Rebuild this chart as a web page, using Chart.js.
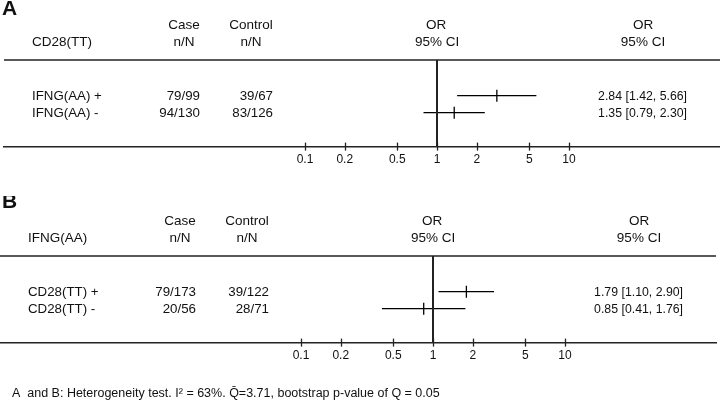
<!DOCTYPE html>
<html>
<head>
<meta charset="utf-8">
<script src="https://cdn.jsdelivr.net/npm/chart.js@4.4.1/dist/chart.umd.min.js"></script>
<style>
body { margin: 0; background: #fff; width: 720px; height: 402px; overflow: hidden; position: relative; }
.panel { position: absolute; left: 0; width: 720px; }
#panelA { top: 0; height: 175px; }
#panelB { top: 196px; height: 206px; }
</style>
</head>
<body>
<div class="panel" id="panelA"><canvas id="chartA"></canvas></div>
<div class="panel" id="panelB"><canvas id="chartB"></canvas></div>
<script>
// Panel A: CD28(TT) según IFNG(AA)
const rowsA = ['IFNG(AA) +', 'IFNG(AA) -'];
const caseA = ['79/99', '94/130'];
const controlA = ['39/67', '83/126'];
const orA = [2.84, 1.35];
const loA = [1.42, 0.79];
const hiA = [5.66, 2.30];

// Panel B: IFNG(AA) según CD28(TT)
const rowsB = ['CD28(TT) +', 'CD28(TT) -'];
const caseB = ['79/173', '20/56'];
const controlB = ['39/122', '28/71'];
const orB = [1.79, 0.85];
const loB = [1.10, 0.41];
const hiB = [2.90, 1.76];

const tickValues = [0.1, 0.2, 0.5, 1, 2, 5, 10];
const footnote = 'A  and B: Heterogeneity test. I\u00B2 = 63%. Q\u0304=3.71, bootstrap p-value of Q = 0.05';

const FONT = '"Liberation Sans", Arial, sans-serif';

// Dibuja reglas, marca de referencia y columnas de texto
const forestPlugin = {
    id: 'forest',
    afterDraw(chart, args, opts) {
        const { ctx, chartArea: { left, right, top, bottom }, scales: { x, y } } = chart;
        const dx = opts.dx;
        const line = (x0, y0, x1, y1) => { ctx.beginPath(); ctx.moveTo(x0, y0); ctx.lineTo(x1, y1); ctx.stroke(); };
        ctx.save();
        ctx.strokeStyle = '#222';
        ctx.lineWidth = 1.5;
        line(left, top, right, top);

        const xOne = x.getPixelForValue(1);
        ctx.lineWidth = 2;
        line(xOne, top, xOne, bottom);

        ctx.lineWidth = 1.3;
        tickValues.forEach(v => {
            const px = Math.round(x.getPixelForValue(v)) + 0.5;
            line(px, bottom - 4, px, bottom + 4);
        });

        ctx.fillStyle = '#111';
        ctx.textBaseline = 'alphabetic';

        // letra del panel
        ctx.font = 'bold 21px ' + FONT;
        ctx.textAlign = 'left';
        ctx.fillText(opts.letter, 2, opts.letterY);

        // encabezados
        ctx.font = '13.5px ' + FONT;
        ctx.fillText(opts.title, 32 + dx, 46);
        ctx.textAlign = 'center';
        ctx.fillText('Case', 184 + dx, 29);
        ctx.fillText('n/N', 184 + dx, 46);
        ctx.fillText('Control', 251 + dx, 29);
        ctx.fillText('n/N', 251 + dx, 46);
        ctx.fillText('OR', xOne - 1, 29);
        ctx.fillText('95% CI', xOne, 46);
        ctx.fillText('OR', 643 + dx, 29);
        ctx.fillText('95% CI', 643 + dx, 46);

        // filas
        opts.rows.forEach((label, i) => {
            const py = y.getPixelForValue(i) + 4.5;
            ctx.font = '13.3px ' + FONT;
            ctx.textAlign = 'left';
            ctx.fillText(label, 32 + dx, py);
            ctx.textAlign = 'right';
            ctx.fillText(opts.cases[i], 200 + dx, py);
            ctx.fillText(opts.controls[i], 273 + dx, py);
            ctx.font = '12.3px ' + FONT;
            const txt = `${opts.or[i].toFixed(2)} [${opts.lo[i].toFixed(2)}, ${opts.hi[i].toFixed(2)}]`;
            ctx.fillText(txt, 687 + dx, py);
        });

        if (opts.footnote) {
            ctx.font = '12.5px ' + FONT;
            ctx.textAlign = 'left';
            ctx.fillText(opts.footnote, 12, opts.footnoteY);
        }
        ctx.restore();
    }
};

function makeForest(canvasId, d) {
    const ctx = document.getElementById(canvasId).getContext('2d');
    const ciSets = d.or.map((v, i) => ({
        data: [{ x: d.lo[i], y: i }, { x: d.hi[i], y: i }],
        showLine: true,
        borderColor: '#000',
        borderWidth: 1.3,
        pointRadius: 0
    }));
    const pointSet = {
        data: d.or.map((v, i) => ({ x: v, y: i })),
        pointStyle: 'line',
        rotation: 90,
        pointRadius: 6,
        borderColor: '#000',
        borderWidth: 1.3
    };
    return new Chart(ctx, {
        type: 'scatter',
        data: { datasets: [...ciSets, pointSet] },
        options: {
            responsive: true,
            maintainAspectRatio: false,
            animation: false,
            layout: { autoPadding: false, padding: { top: 60, bottom: d.padBottom, left: d.padLeft, right: d.padRight } },
            plugins: {
                legend: { display: false },
                tooltip: { enabled: false },
                forest: d
            },
            scales: {
                x: {
                    type: 'logarithmic',
                    // 132 px por década, 1 a 433 px del borde izquierdo
                    min: 0.000524,
                    max: 139.3,
                    afterBuildTicks: scale => { scale.ticks = tickValues.map(v => ({ value: v })); },
                    ticks: {
                        autoSkip: false,
                        maxRotation: 0,
                        padding: 6,
                        color: '#111',
                        font: { size: 12, family: FONT },
                        callback: v => String(v)
                    },
                    grid: { display: false, drawTicks: false },
                    border: { display: true, color: '#222', width: 1.5 }
                },
                y: { type: 'linear', reverse: true, min: -2.1, max: 3.0, display: false }
            }
        },
        plugins: [forestPlugin]
    });
}

makeForest('chartA', {
    letter: 'A', letterY: 15, title: 'CD28(TT)', dx: 0,
    rows: rowsA, cases: caseA, controls: controlA, or: orA, lo: loA, hi: hiA,
    padLeft: 4, padRight: 0, padBottom: 2
});

makeForest('chartB', {
    letter: 'B', letterY: 12, title: 'IFNG(AA)', dx: -4,
    rows: rowsB, cases: caseB, controls: controlB, or: orB, lo: loB, hi: hiB,
    padLeft: 0, padRight: 4, padBottom: 33,
    footnote: footnote, footnoteY: 201
});
</script>
</body>
</html>
